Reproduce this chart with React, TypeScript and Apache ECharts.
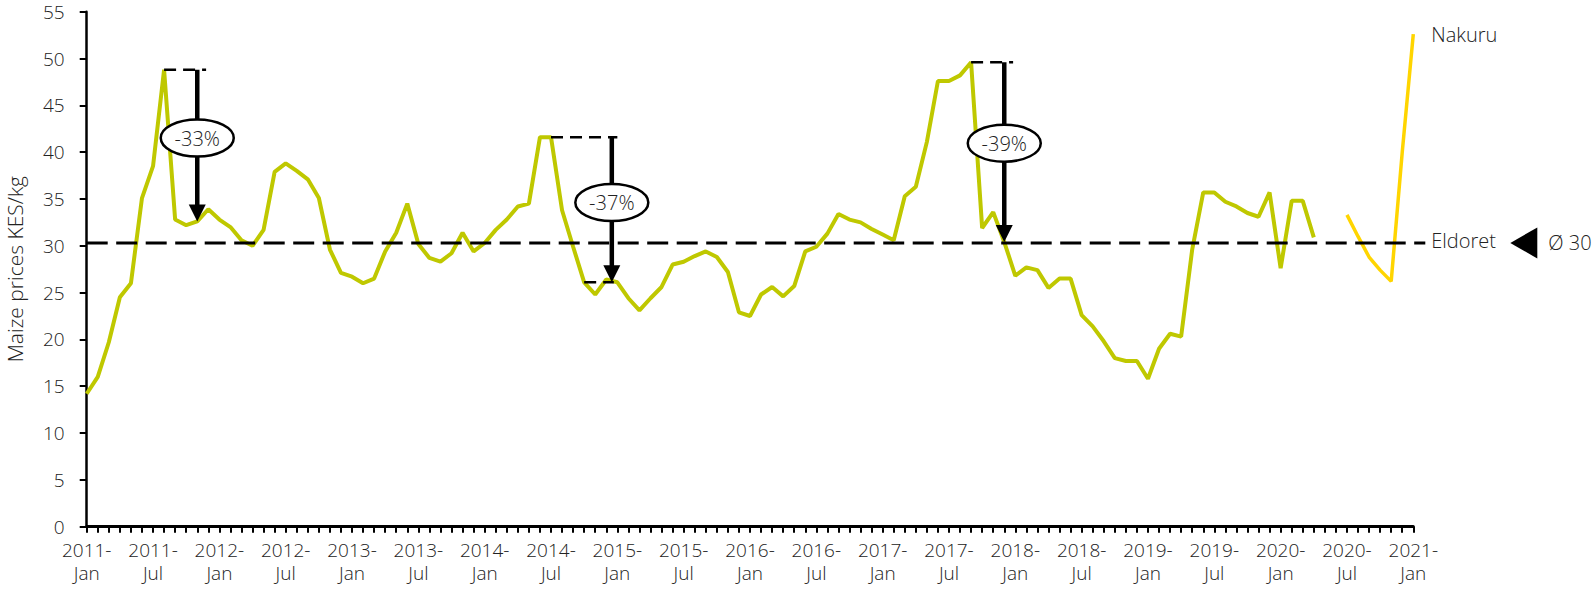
import React, { useEffect, useRef } from "react";
import * as echarts from "echarts";

// Monthly maize prices (KES/kg), index 0 = 2011-Jan
const eldoretPrices: number[] = [
  14.2, 16.0, 19.7, 24.5, 26.0, 35.1, 38.5, 48.8, 32.8, 32.2, 32.6, 33.9,
  32.8, 32.0, 30.6, 30.0, 31.7, 37.9, 38.8, 38.0, 37.1, 35.1, 29.6, 27.1,
  26.7, 26.0, 26.5, 29.4, 31.4, 34.5, 30.2, 28.7, 28.3, 29.2, 31.4, 29.4,
  30.3, 31.7, 32.8, 34.2, 34.5, 41.6, 41.6, 33.8, 29.9, 26.1, 24.8, 26.4,
  26.1, 24.4, 23.1, 24.4, 25.6, 28.0, 28.3, 28.9, 29.4, 28.8, 27.2, 22.9,
  22.5, 24.8, 25.6, 24.6, 25.7, 29.4, 29.9, 31.3, 33.4, 32.8, 32.5, 31.8,
  31.2, 30.6, 35.3, 36.3, 41.1, 47.6, 47.6, 48.2, 49.6, 31.9, 33.6, 30.4,
  26.8, 27.7, 27.4, 25.5, 26.5, 26.5, 22.6, 21.4, 19.8, 18.0, 17.7, 17.7,
  15.8, 19.0, 20.6, 20.3, 29.6, 35.7, 35.7, 34.7, 34.2, 33.5, 33.1, 35.7,
  27.6, 34.8, 34.8, 30.9,
];

// Nakuru series starts at 2020-Jul (month index 114)
const nakuruStart = 114;
const nakuruPrices: number[] = [33.3, 31.0, 28.8, 27.4, 26.2, 40.0, 52.6];

const eldoretAverage = 30.3;

const tickLabels: string[] = [
  "2011-\nJan", "2011-\nJul", "2012-\nJan", "2012-\nJul", "2013-\nJan",
  "2013-\nJul", "2014-\nJan", "2014-\nJul", "2015-\nJan", "2015-\nJul",
  "2016-\nJan", "2016-\nJul", "2017-\nJan", "2017-\nJul", "2018-\nJan",
  "2018-\nJul", "2019-\nJan", "2019-\nJul", "2020-\nJan", "2020-\nJul",
  "2021-\nJan",
];

// Price drops: peak month, arrow month, end of the dashed peak marker
const dropPeakMonth = [7, 42, 80];
const dropArrowMonth = [10, 47.5, 83];
const dropMarkerEnd = [10.8, 48, 83.8];
const dropPeakValue = [48.8, 41.6, 49.6];
const dropLowValue = [32.6, 26.1, 30.4];
const dropLowMarkerStart: (number | null)[] = [null, 45, null];
const dropLabels = ["-33%", "-37%", "-39%"];

const FONT = '"Open Sans", "Noto Sans", sans-serif';
const TEXT = "#222222";

export default function App() {
  const ref = useRef<HTMLDivElement>(null);

  useEffect(() => {
    if (!ref.current) return;
    const chart = echarts.init(ref.current, undefined, { renderer: "svg" });

    const lastIndex = (tickLabels.length - 1) * 6;

    chart.setOption({
      animation: false,
      backgroundColor: "#ffffff",
      grid: {
        left: 86.7,
        right: 181.7,
        top: 11.7,
        bottom: 62.3,
        containLabel: false,
        outerBoundsMode: "none",
      },
      xAxis: {
        type: "value",
        min: 0,
        max: lastIndex,
        interval: 1,
        axisLine: { show: true, lineStyle: { color: "#000", width: 3 } },
        axisTick: { show: true, inside: false, length: 6, lineStyle: { color: "#000", width: 2 } },
        splitLine: { show: false },
        axisLabel: {
          margin: 12,
          fontFamily: FONT,
          fontWeight: 300,
          fontSize: 19,
          lineHeight: 23,
          color: TEXT,
          formatter: (v: number) => (v % 6 === 0 ? tickLabels[v / 6] : ""),
        },
      },
      yAxis: {
        type: "value",
        min: 0,
        max: 55,
        interval: 5,
        name: "Maize prices KES/kg",
        nameLocation: "middle",
        nameGap: 61,
        nameRotate: 90,
        nameTextStyle: { fontFamily: FONT, fontWeight: 300, fontSize: 21, color: TEXT },
        axisLine: { show: true, lineStyle: { color: "#000", width: 2.5 } },
        axisTick: { show: true, inside: false, length: 7, lineStyle: { color: "#000", width: 2 } },
        splitLine: { show: false },
        axisLabel: { margin: 22, fontFamily: FONT, fontWeight: 300, fontSize: 19, color: TEXT },
      },
      series: [
        {
          name: "Eldoret",
          type: "line",
          data: eldoretPrices.map((v, i) => [i, v]),
          symbol: "none",
          lineStyle: { color: "#BFC800", width: 4 },
          z: 2,
        },
        {
          name: "Nakuru",
          type: "line",
          data: nakuruPrices.map((v, i) => [nakuruStart + i, v]),
          symbol: "none",
          lineStyle: { color: "#FFD500", width: 3.5 },
          z: 2,
        },
      ],
    });

    const px = (x: number, y: number) =>
      chart.convertToPixel({ xAxisIndex: 0, yAxisIndex: 0 }, [x, y]) as number[];

    const elements: any[] = [];
    const labelFont = `300 20px ${FONT}`;

    // average line and series labels on the right
    const avgStart = px(0, eldoretAverage);
    const axisEnd = px(lastIndex, eldoretAverage);
    elements.push({
      type: "line",
      z: 100,
      shape: { x1: avgStart[0], y1: avgStart[1], x2: axisEnd[0] + 12, y2: avgStart[1] },
      style: { stroke: "#000", lineWidth: 3, lineDash: [21, 8.5] },
    });
    elements.push({
      type: "text",
      z: 100,
      x: axisEnd[0] + 18,
      y: axisEnd[1] - 2,
      style: { text: "Eldoret", font: labelFont, fill: TEXT, align: "left", verticalAlign: "middle" },
    });
    elements.push({
      type: "polygon",
      z: 100,
      shape: {
        points: [
          [axisEnd[0] + 97, axisEnd[1]],
          [axisEnd[0] + 124, axisEnd[1] - 15.5],
          [axisEnd[0] + 124, axisEnd[1] + 15.5],
        ],
      },
      style: { fill: "#000" },
    });
    elements.push({
      type: "text",
      z: 100,
      x: axisEnd[0] + 135,
      y: axisEnd[1],
      style: { text: "Ø 30", font: labelFont, fill: TEXT, align: "left", verticalAlign: "middle" },
    });
    const nakuruEnd = px(nakuruStart + nakuruPrices.length - 1, nakuruPrices[nakuruPrices.length - 1]);
    elements.push({
      type: "text",
      z: 100,
      x: nakuruEnd[0] + 18,
      y: nakuruEnd[1],
      style: { text: "Nakuru", font: labelFont, fill: TEXT, align: "left", verticalAlign: "middle" },
    });

    // drop annotations
    dropLabels.forEach((label, k) => {
      const peak = px(dropPeakMonth[k], dropPeakValue[k]);
      const markEnd = px(dropMarkerEnd[k], dropPeakValue[k]);
      const top = px(dropArrowMonth[k], dropPeakValue[k]);
      const low = px(dropArrowMonth[k], dropLowValue[k]);
      elements.push({
        type: "line",
        z: 100,
        shape: { x1: peak[0], y1: peak[1], x2: markEnd[0], y2: peak[1] },
        style: { stroke: "#000", lineWidth: 2.5, lineDash: [12, 7] },
      });
      const lowStart = dropLowMarkerStart[k];
      if (lowStart !== null) {
        const ls = px(lowStart, dropLowValue[k]);
        elements.push({
          type: "line",
          z: 100,
          shape: { x1: ls[0], y1: low[1], x2: low[0] + 2, y2: low[1] },
          style: { stroke: "#000", lineWidth: 2.5, lineDash: [12, 7] },
        });
      }
      const headH = 17;
      const headW = 17;
      elements.push({
        type: "line",
        z: 101,
        shape: { x1: top[0], y1: top[1], x2: low[0], y2: low[1] - headH + 1 },
        style: { stroke: "#000", lineWidth: 4.5 },
      });
      elements.push({
        type: "polygon",
        z: 101,
        shape: {
          points: [
            [low[0] - headW / 2, low[1] - headH],
            [low[0] + headW / 2, low[1] - headH],
            [low[0], low[1]],
          ],
        },
        style: { fill: "#000" },
      });
      const cy = top[1] + (low[1] - top[1]) * 0.45;
      elements.push({
        type: "ellipse",
        z: 102,
        shape: { cx: top[0], cy, rx: 36.5, ry: 18.5 },
        style: { fill: "#fff", stroke: "#000", lineWidth: 2.5 },
      });
      elements.push({
        type: "text",
        z: 103,
        x: top[0],
        y: cy,
        style: { text: label, font: labelFont, fill: TEXT, align: "center", verticalAlign: "middle" },
      });
    });

    chart.setOption({ graphic: { elements } });

    return () => chart.dispose();
  }, []);

  return (
    <div
      ref={ref}
      style={{ position: "fixed", left: 0, top: 0, width: 1595, height: 589, background: "#fff" }}
    />
  );
}
